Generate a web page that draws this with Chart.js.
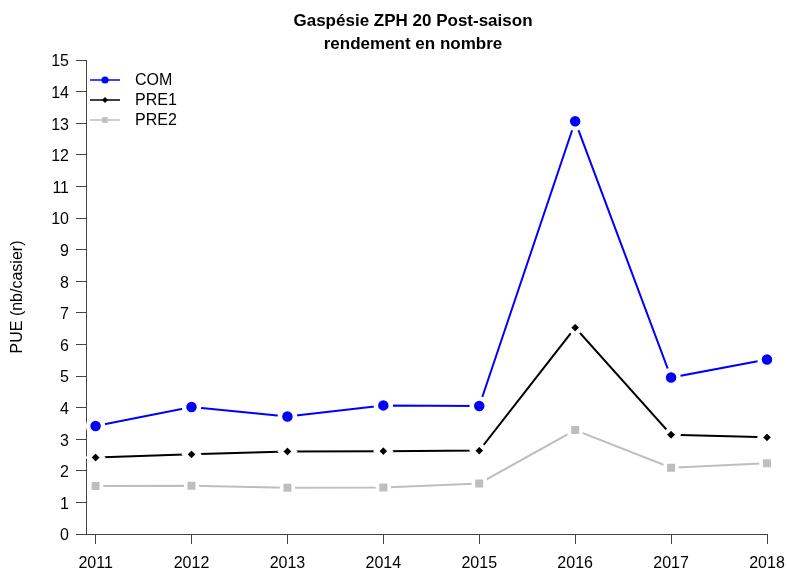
<!DOCTYPE html>
<html>
<head>
<meta charset="utf-8">
<script src="https://cdn.jsdelivr.net/npm/chart.js@4/dist/chart.umd.min.js"></script>
<style>
  html, body { margin: 0; padding: 0; background: #fff; }
  #wrap { width: 787px; height: 571px; position: relative; }
</style>
</head>
<body>
<div id="wrap"><canvas id="pueChart"></canvas></div>
<script>
// ================================
// DATA
// ================================
const years = [2011, 2012, 2013, 2014, 2015, 2016, 2017, 2018];
const com  = [3.42, 4.02, 3.72, 4.07, 4.05, 13.06, 4.95, 5.52];
const pre1 = [2.42, 2.52, 2.61, 2.62, 2.64, 6.53, 3.14, 3.06];
const pre2 = [1.52, 1.53, 1.46, 1.47, 1.60, 3.29, 2.10, 2.24];
const yTicks = [0, 1, 2, 3, 4, 5, 6, 7, 8, 9, 10, 11, 12, 13, 14, 15];
const seriesNames = ["COM", "PRE1", "PRE2"];
const titleLines = ["Gaspésie ZPH 20 Post-saison", "rendement en nombre"];
const yTitle = "PUE (nb/casier)";

const FONT = "'Liberation Sans', Arial, Helvetica, sans-serif";
const AXIS = "#444";

function pts(values) {
  return years.map((x, i) => ({ x: x, y: values[i] }));
}

// ================================
// TITLE + LEGEND (R style)
// ================================
const rStyle = {
  id: "rStyle",
  afterDraw(chart) {
    const ctx = chart.ctx;
    ctx.save();
    ctx.fillStyle = "#000";
    ctx.textAlign = "center";
    ctx.textBaseline = "middle";
    ctx.font = "bold 17px " + FONT;
    ctx.fillText(titleLines[0], 413, 21);
    ctx.fillText(titleLines[1], 413, 44);

    // legend: line with marker in the middle
    const styles = [
      { color: "#0000FF", shape: "circle", r: 3.6 },
      { color: "#000000", shape: "diamond", r: 3 },
      { color: "#BEBEBE", shape: "square", r: 2.8 }
    ];
    ctx.font = "16px " + FONT;
    ctx.textAlign = "left";
    seriesNames.forEach((name, i) => {
      const y = 80 + i * 20;
      const s = styles[i];
      ctx.strokeStyle = s.color;
      ctx.lineWidth = 1.5;
      ctx.beginPath();
      ctx.moveTo(90, y);
      ctx.lineTo(120, y);
      ctx.stroke();
      ctx.fillStyle = s.color;
      ctx.beginPath();
      if (s.shape === "circle") {
        ctx.arc(105, y, s.r, 0, Math.PI * 2);
      } else if (s.shape === "diamond") {
        ctx.moveTo(105, y - s.r); ctx.lineTo(105 + s.r, y);
        ctx.lineTo(105, y + s.r); ctx.lineTo(105 - s.r, y);
        ctx.closePath();
      } else {
        ctx.rect(105 - s.r, y - s.r, s.r * 2, s.r * 2);
      }
      ctx.fill();
      ctx.fillStyle = "#000";
      ctx.fillText(name, 135, y + 1);
    });
    ctx.restore();
  }
};

// ================================
// CHART
// ================================
new Chart(document.getElementById("pueChart"), {
  type: "line",
  data: {
    datasets: [
      {
        label: seriesNames[0],
        data: pts(com),
        borderColor: "#0000FF",
        backgroundColor: "#0000FF",
        borderWidth: 2,
        pointStyle: "circle",
        pointRadius: 7.5,
        pointBorderWidth: 4.5,
        pointBorderColor: "#fff",
        pointBackgroundColor: "#0000FF",
        clip: false
      },
      {
        label: seriesNames[1],
        data: pts(pre1),
        borderColor: "#000000",
        backgroundColor: "#000000",
        borderWidth: 2,
        pointStyle: "rectRot",
        pointRadius: 7,
        pointBorderWidth: 4.5,
        pointBorderColor: "#fff",
        pointBackgroundColor: "#000000",
        clip: false
      },
      {
        label: seriesNames[2],
        data: pts(pre2),
        borderColor: "#BEBEBE",
        backgroundColor: "#BEBEBE",
        borderWidth: 2,
        pointStyle: "rect",
        pointRadius: 8.2,
        pointBorderWidth: 3.6,
        pointBorderColor: "#fff",
        pointBackgroundColor: "#BEBEBE",
        clip: false
      }
    ]
  },
  options: {
    responsive: true,
    maintainAspectRatio: false,
    animation: false,
    devicePixelRatio: 1,
    layout: { padding: { left: 0, right: 20, top: 60, bottom: 0 } },
    plugins: {
      legend: { display: false },
      title: { display: false },
      tooltip: { enabled: false }
    },
    elements: { line: { tension: 0 } },
    scales: {
      x: {
        type: "linear",
        min: 2010.9,
        max: 2018,
        afterBuildTicks: (scale) => {
          scale.ticks = years.map(v => ({ value: v }));
        },
        afterFit: (scale) => {
          scale.height = 37;
          scale.paddingLeft = 0;
          scale.paddingRight = 0;
        },
        ticks: {
          color: "#000",
          padding: 10,
          maxRotation: 0,
          autoSkip: false,
          font: { family: FONT, size: 16 },
          callback: (v) => String(v)
        },
        grid: {
          display: true,
          drawOnChartArea: false,
          drawTicks: true,
          tickLength: 10,
          color: AXIS
        },
        border: { display: true, color: AXIS, width: 1 }
      },
      y: {
        min: 0,
        max: 15,
        afterBuildTicks: (scale) => {
          scale.ticks = yTicks.map(v => ({ value: v }));
        },
        afterFit: (scale) => {
          scale.width = 86;
          scale.paddingTop = 0;
          scale.paddingBottom = 0;
        },
        ticks: {
          color: "#000",
          padding: 7,
          labelOffset: 2,
          autoSkip: false,
          font: { family: FONT, size: 16 }
        },
        grid: {
          display: true,
          drawOnChartArea: false,
          drawTicks: true,
          tickLength: 10,
          color: AXIS
        },
        border: { display: true, color: AXIS, width: 1 },
        title: {
          display: true,
          text: yTitle,
          color: "#000",
          font: { family: FONT, size: 16 },
          padding: { top: 8, bottom: 0 }
        }
      }
    }
  },
  plugins: [rStyle]
});
</script>
</body>
</html>
